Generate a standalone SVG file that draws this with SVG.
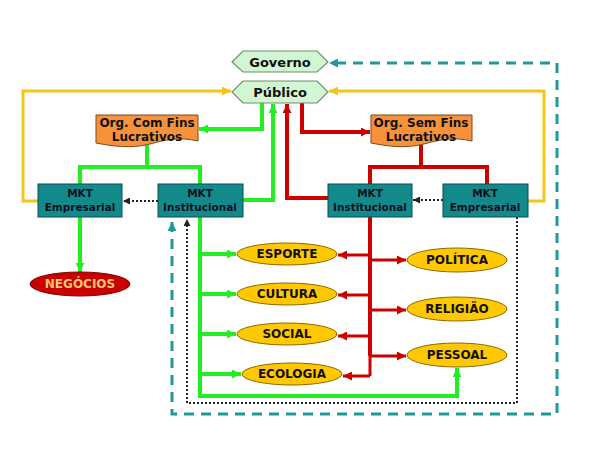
<svg xmlns="http://www.w3.org/2000/svg" width="600" height="450" viewBox="0 0 600 450">
<defs>
<style>
text{font-family:"DejaVu Sans","Verdana",sans-serif;font-weight:bold;text-anchor:middle;fill:#111}
.hex{fill:#d2f5d2;stroke:#6f8f6f;stroke-width:1.2}
.org{fill:#f7923a;stroke:#7a4a1a;stroke-width:1}
.box{fill:#128a8c;stroke:#0b4d4f;stroke-width:1}
.ell{fill:#ffc800;stroke:#8a6a00;stroke-width:1}
.neg{fill:#c80000;stroke:#800000;stroke-width:1}
.g{fill:none;stroke:#22ee22;stroke-width:4}
.r{fill:none;stroke:#cc0000;stroke-width:4}
.y{fill:none;stroke:#f5c518;stroke-width:3}
.t{fill:none;stroke:#1f9a9a;stroke-width:3;stroke-dasharray:10 7}
.d{fill:none;stroke:#222;stroke-width:2;stroke-dasharray:2 2}
.s{font-size:12px}
.m{font-size:10.5px;fill:#0a1020}
</style>
<marker id="ag" viewBox="0 0 10 10" refX="10" refY="5" markerUnits="userSpaceOnUse" markerWidth="9" markerHeight="9" orient="auto"><path d="M0,0 L10,5 L0,10 z" fill="#22ee22"/></marker>
<marker id="ar" viewBox="0 0 10 10" refX="10" refY="5" markerUnits="userSpaceOnUse" markerWidth="9" markerHeight="9" orient="auto"><path d="M0,0 L10,5 L0,10 z" fill="#cc0000"/></marker>
<marker id="ay" viewBox="0 0 10 10" refX="10" refY="5" markerUnits="userSpaceOnUse" markerWidth="9" markerHeight="9" orient="auto"><path d="M0,0 L10,5 L0,10 z" fill="#f5c518"/></marker>
<marker id="at" viewBox="0 0 10 10" refX="10" refY="5" markerUnits="userSpaceOnUse" markerWidth="9" markerHeight="9" orient="auto-start-reverse"><path d="M0,0 L10,5 L0,10 z" fill="#1f9a9a"/></marker>
<marker id="ad" viewBox="0 0 10 10" refX="10" refY="5" markerUnits="userSpaceOnUse" markerWidth="7" markerHeight="7" orient="auto"><path d="M0,0 L10,5 L0,10 z" fill="#222"/></marker>
</defs>

<g id="connectors">
<path class="t" d="M172,222 V414 H557 V63 H329" marker-start="url(#at)" marker-end="url(#at)"/>
<path class="d" d="M517,217 V403 H187 V219" marker-end="url(#ad)"/>
<path class="d" d="M158,201 H123" marker-end="url(#ad)"/>
<path class="d" d="M443,200 H413" marker-end="url(#ad)"/>
<path class="y" d="M38,201 H23 V91 H231" marker-end="url(#ay)"/>
<path class="y" d="M528,201 H544 V91 H329" marker-end="url(#ay)"/>
<path class="g" d="M147,145 V167 M78,167 H202 M80,167 V184 M200,167 V184"/>
<path class="g" d="M243,200 H273 V104" marker-end="url(#ag)"/>
<path class="g" d="M262,103 V129 H199" marker-end="url(#ag)"/>
<path class="g" d="M80,217 V272" marker-end="url(#ag)"/>
<path class="g" d="M200,217 V396 H457 V368" marker-end="url(#ag)"/>
<path class="g" d="M200,254 H236" marker-end="url(#ag)"/>
<path class="g" d="M200,294 H236" marker-end="url(#ag)"/>
<path class="g" d="M200,334 H236" marker-end="url(#ag)"/>
<path class="g" d="M200,374 H241" marker-end="url(#ag)"/>
<path class="r" d="M421,145 V167 M368,167 H489 M370,167 V184 M487,167 V184"/>
<path class="r" d="M328,198 H287 V104" marker-end="url(#ar)"/>
<path class="r" d="M302,103 V132 H370" marker-end="url(#ar)"/>
<path class="r" d="M370,217 V356"/>
<path class="r" style="stroke-width:3" d="M370,356 V376"/>
<path class="r" style="stroke-width:3" d="M370,255 H338" marker-end="url(#ar)"/>
<path class="r" style="stroke-width:3" d="M370,295 H338" marker-end="url(#ar)"/>
<path class="r" style="stroke-width:3" d="M370,336 H338" marker-end="url(#ar)"/>
<path class="r" style="stroke-width:3" d="M370,376 H343" marker-end="url(#ar)"/>
<path class="r" style="stroke-width:3" d="M370,260 H406" marker-end="url(#ar)"/>
<path class="r" style="stroke-width:3" d="M370,310 H406" marker-end="url(#ar)"/>
<path class="r" style="stroke-width:3" d="M370,356 H406" marker-end="url(#ar)"/>
</g>

<g id="governo"><polygon class="hex" points="232,62 243,51 317,51 328,62 317,72 243,72"/><text x="280" y="67" style="font-size:13px">Governo</text></g>
<g id="publico"><polygon class="hex" points="232,92 243,81 317,81 328,92 317,103 243,103"/><text x="280" y="97" style="font-size:13px">Público</text></g>

<g id="org-com"><path class="org" d="M96,115 H198 V141 C180,137 168,139 150,144 C130,149 112,146 96,143 Z"/><text class="s" x="147" y="127">Org. Com Fins</text><text class="s" x="147" y="141">Lucrativos</text></g>
<g id="org-sem"><path class="org" d="M371,115 H472 V141 C454,137 442,139 424,144 C404,149 387,146 371,143 Z"/><text class="s" x="421" y="127">Org. Sem Fins</text><text class="s" x="421" y="141">Lucrativos</text></g>

<g id="mkt-emp-l"><rect class="box" x="38" y="184" width="84" height="33"/><text class="m" x="80" y="197">MKT</text><text class="m" x="80" y="211">Empresarial</text></g>
<g id="mkt-inst-l"><rect class="box" x="158" y="184" width="85" height="33"/><text class="m" x="200" y="197">MKT</text><text class="m" x="200" y="211">Institucional</text></g>
<g id="mkt-inst-r"><rect class="box" x="328" y="184" width="84" height="33"/><text class="m" x="370" y="197">MKT</text><text class="m" x="370" y="211">Institucional</text></g>
<g id="mkt-emp-r"><rect class="box" x="443" y="184" width="85" height="33"/><text class="m" x="485" y="197">MKT</text><text class="m" x="485" y="211">Empresarial</text></g>

<g id="negocios"><ellipse class="neg" cx="80" cy="284" rx="50" ry="12"/><text class="s" x="80" y="288" style="fill:#ffc870">NEGÓCIOS</text></g>
<g id="esporte"><ellipse class="ell" cx="287" cy="254" rx="50" ry="11"/><text class="s" x="287" y="258">ESPORTE</text></g>
<g id="cultura"><ellipse class="ell" cx="287" cy="294" rx="50" ry="11"/><text class="s" x="287" y="298">CULTURA</text></g>
<g id="social"><ellipse class="ell" cx="287" cy="334" rx="50" ry="11"/><text class="s" x="287" y="338">SOCIAL</text></g>
<g id="ecologia"><ellipse class="ell" cx="292" cy="374" rx="50" ry="11"/><text class="s" x="292" y="378">ECOLOGIA</text></g>
<g id="politica"><ellipse class="ell" cx="457" cy="260" rx="50" ry="12"/><text class="s" x="457" y="264">POLÍTICA</text></g>
<g id="religiao"><ellipse class="ell" cx="457" cy="309" rx="50" ry="12"/><text class="s" x="457" y="313">RELIGIÃO</text></g>
<g id="pessoal"><ellipse class="ell" cx="457" cy="355" rx="50" ry="12"/><text class="s" x="457" y="359">PESSOAL</text></g>
</svg>
